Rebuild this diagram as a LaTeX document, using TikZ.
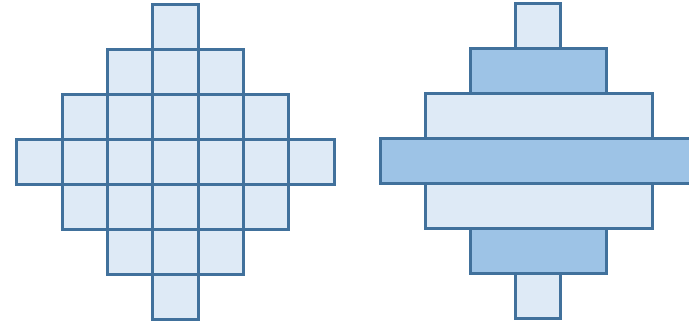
\documentclass[tikz,border=0pt]{standalone}
\definecolor{edgeblue}{HTML}{41719C}
\definecolor{lightfill}{HTML}{DEEAF6}
\definecolor{darkfill}{HTML}{9DC3E6}
\begin{document}
\begin{tikzpicture}[x=1pt,y=-1pt,
  cell/.style={draw=edgeblue,line width=3pt,fill=lightfill,rectangle,inner sep=0pt,outer sep=0pt,minimum width=45.3pt,minimum height=44.9pt},
  bar/.style={draw=edgeblue,line width=3pt,rectangle,inner sep=0pt,outer sep=0pt,minimum height=44.9pt},
  lightbar/.style={bar,fill=lightfill},
  darkbar/.style={bar,fill=darkfill}]
\useasboundingbox (0,0) rectangle (689,324);
% left diamond of squares
\foreach \r in {-3,...,3}{
  \pgfmathtruncatemacro{\m}{3-abs(\r)}
  \foreach \c in {-\m,...,\m}{
    \node[cell] (s\r\c) at ({175.5+45.3*\c},{162+44.86*\r}) {};
  }
}
% right stacked bars
\node[lightbar,minimum width=45.5pt]  (b0) at (538,{161-3*44.86}) {};
\node[darkbar,minimum width=136.5pt]  (b1) at (538.5,{161-2*44.86}) {};
\node[lightbar,minimum width=227pt]   (b2) at (538.5,{161-44.86}) {};
\node[darkbar,minimum width=330pt]    (b3) at (545,161) {};
\node[lightbar,minimum width=227pt]   (b4) at (538.5,{161+44.86}) {};
\node[darkbar,minimum width=136.5pt]  (b5) at (538.5,{161+2*44.86}) {};
\node[lightbar,minimum width=45.5pt]  (b6) at (538,{161+3*44.86}) {};
\end{tikzpicture}
\end{document}
